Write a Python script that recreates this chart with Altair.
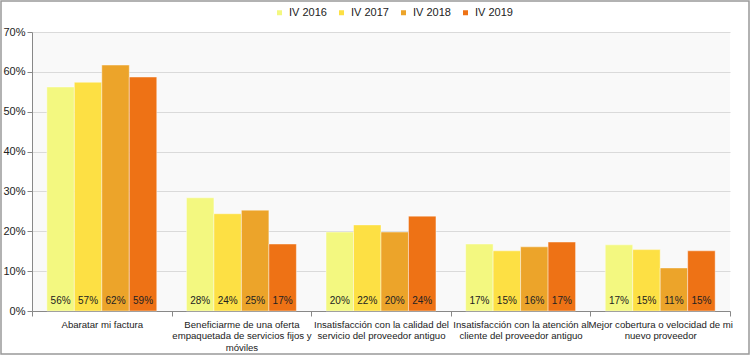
import altair as alt
import pandas as pd

categories = [
    "Abaratar mi factura",
    "Beneficiarme de una oferta|empaquetada de servicios fijos y|móviles",
    "Insatisfacción con la calidad del|servicio del proveedor antiguo",
    "Insatisfacción con la atención al|cliente del proveedor antiguo",
    "Mejor cobertura o velocidad de mi|nuevo proveedor",
]
series = ["IV 2016", "IV 2017", "IV 2018", "IV 2019"]
v2016 = [0.562, 0.284, 0.198, 0.168, 0.166]
v2017 = [0.574, 0.244, 0.216, 0.151, 0.154]
v2018 = [0.617, 0.253, 0.198, 0.161, 0.108]
v2019 = [0.587, 0.168, 0.238, 0.173, 0.151]
colors = ["#F3F880", "#FDE044", "#ECA42A", "#EE7215"]

rows = []
for s, vals in zip(series, [v2016, v2017, v2018, v2019]):
    for c, v in zip(categories, vals):
        rows.append({"cat": c, "serie": s, "value": v, "zero": 0})
df = pd.DataFrame(rows)

W, H = 698, 279
FONT = "Liberation Sans"

x = alt.X("cat:N", sort=categories, title=None,
          scale=alt.Scale(paddingInner=0, paddingOuter=0),
          axis=alt.Axis(labelExpr="split(datum.label, '|')", labelAngle=0,
                        labelFontSize=9.6, labelColor="#222", labelFont=FONT,
                        tickBand="extent", tickSize=5, tickColor="#888",
                        domainColor="#888", labelPadding=3, labelLineHeight=11.5,
                        labelBaseline="top", labelLimit=300))
xo = alt.XOffset("serie:N", sort=series,
                 scale=alt.Scale(paddingInner=0, paddingOuter=0.54))

yaxis = alt.Axis(format=".0%", values=[0, 0.1, 0.2, 0.3, 0.4, 0.5, 0.6, 0.7],
                 labelFontSize=11, labelColor="#222", labelFont=FONT,
                 tickSize=5, tickColor="#888", domainColor="#888",
                 gridColor="#DADADA", labelPadding=2)
yscale = alt.Scale(domain=[0, 0.7])

base = alt.Chart(df)

bars = base.mark_bar(stroke="#ffffff", strokeWidth=0.6, strokeOpacity=0.7).encode(
    x=x, xOffset=xo,
    y=alt.Y("value:Q", title=None, scale=yscale, axis=yaxis),
    color=alt.Color("serie:N", sort=series,
                    scale=alt.Scale(domain=series, range=colors),
                    legend=alt.Legend(title=None, orient="none", direction="horizontal",
                                      legendX=242, legendY=-25, symbolType="square",
                                      symbolSize=25, symbolStrokeWidth=0,
                                      labelFontSize=11, labelFont=FONT, labelColor="#222",
                                      columnPadding=9, labelOffset=4)),
)

labels = base.mark_text(fontSize=10, font=FONT, color="#222", dy=-10).encode(
    x=x, xOffset=xo,
    y=alt.Y("zero:Q", title=None, scale=yscale, axis=yaxis),
    text=alt.Text("value:Q", format=".0%"),
)

frame = alt.Chart(pd.DataFrame({"a": [0]})).mark_rect(
    fill=None, stroke="#999", strokeWidth=1.5).encode(
    x=alt.value(-31), x2=alt.value(W + 19), y=alt.value(-31), y2=alt.value(H + 43))

chart = alt.layer(bars, labels, frame).properties(
    width=W, height=H,
    autosize=alt.AutoSizeParams(type="none"),
    padding={"left": 32, "top": 32, "right": 20, "bottom": 44},
    background="white",
).configure_view(fill="#F9F9F9", stroke=None)

chart.save("out.html", embed_options={"renderer": "svg", "actions": False})
